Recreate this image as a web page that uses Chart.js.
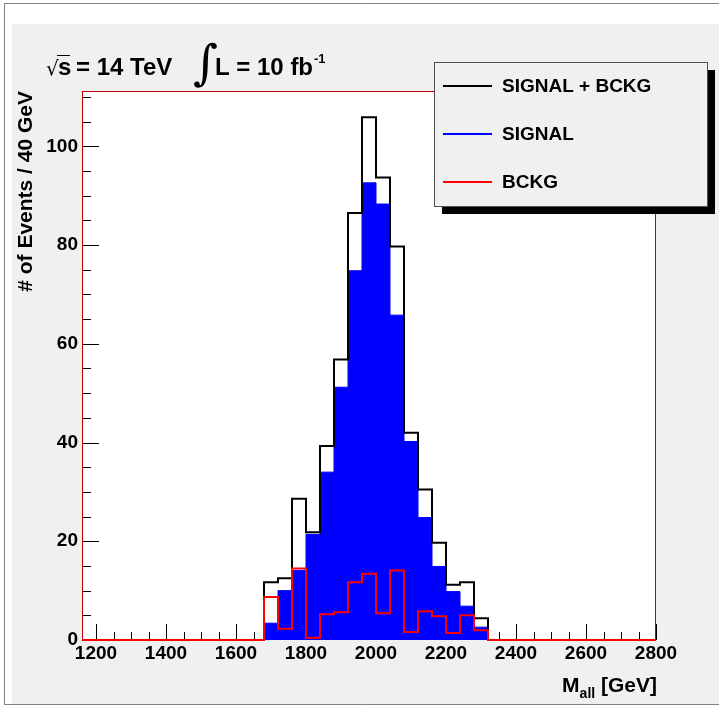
<!DOCTYPE html>
<html>
<head>
<meta charset="utf-8">
<style>
  html, body { margin: 0; padding: 0; background: #ffffff; }
  canvas { display: block; }
</style>
<script src="https://cdn.jsdelivr.net/npm/chart.js@4.4.1/dist/chart.umd.min.js"></script>
</head>
<body>
<canvas id="c" width="719" height="707"></canvas>
<script>
// Histogram range and binning (GeV)
const xMin = 1160;
const xMax = 2800;
const binWidth = 40;
const yMax = 111.2;

// Lower edges of the populated 40 GeV bins
const binLowEdges = [1680, 1720, 1760, 1800, 1840, 1880, 1920, 1960, 2000, 2040, 2080, 2120, 2160, 2200, 2240, 2280];

// Events per bin
const signalPlusBckg = [11.7, 12.5, 28.6, 21.8, 39.3, 56.8, 86.5, 105.9, 93.7, 79.7, 42.0, 30.5, 19.7, 11.2, 11.7, 4.4];
const signal         = [3.4, 10.0, 14.1, 21.4, 34.0, 51.2, 74.8, 92.6, 88.3, 65.8, 40.2, 24.8, 14.9, 9.8, 6.85, 2.6];
const bckg           = [8.7, 2.3, 14.5, 0.45, 5.2, 5.6, 11.7, 13.4, 5.4, 14.1, 1.6, 5.8, 4.8, 1.4, 5.0, 2.0];

// Axis ticks
const xTickLabels = [1200, 1400, 1600, 1800, 2000, 2200, 2400, 2600, 2800];
const xMinorStep = 50;
const yTickLabels = [0, 20, 40, 60, 80, 100];
const yMinorStep = 5;

const FONT = "'Liberation Sans', Arial, sans-serif";

// Turn bin contents into step-line points: one point on each bin's lower
// edge carrying that bin's content; the level is held until the next edge.
function stepPoints(values) {
  const pts = [{ x: xMin, y: 0 }];
  binLowEdges.forEach((lo, i) => pts.push({ x: lo, y: values[i] }));
  pts.push({ x: binLowEdges[binLowEdges.length - 1] + binWidth, y: 0 });
  pts.push({ x: xMax, y: 0 });
  return pts;
}

function range(from, to, step) {
  const out = [];
  for (let v = from; v <= to + 1e-9; v += step) out.push(v);
  return out;
}

// Pad background, outer border and white frame
const backgroundPlugin = {
  id: 'padBackground',
  beforeDraw(chart) {
    const ctx = chart.ctx;
    const a = chart.chartArea;
    ctx.save();
    ctx.fillStyle = '#ffffff';
    ctx.fillRect(0, 0, chart.width, chart.height);
    ctx.fillStyle = '#f0f0f0';
    ctx.fillRect(12, 24, chart.width - 12, chart.height - 27);
    ctx.strokeStyle = '#808080';
    ctx.lineWidth = 1;
    ctx.beginPath();
    ctx.moveTo(4.5, chart.height - 2.5);
    ctx.lineTo(4.5, 3.5);
    ctx.lineTo(chart.width, 3.5);
    ctx.moveTo(4.5, chart.height - 2.5);
    ctx.lineTo(chart.width, chart.height - 2.5);
    ctx.stroke();
    ctx.fillStyle = '#ffffff';
    ctx.fillRect(a.left, a.top, a.right - a.left, a.bottom - a.top);
    ctx.restore();
  }
};

// Frame outline and inward tick marks, laid down beneath the histograms
const frameTicksPlugin = {
  id: 'frameTicks',
  beforeDatasetsDraw(chart) {
    const ctx = chart.ctx;
    const a = chart.chartArea;
    const xs = chart.scales.x;
    const ys = chart.scales.y;
    ctx.save();
    ctx.strokeStyle = '#000000';
    ctx.lineWidth = 1;
    ctx.beginPath();
    xs.ticks.forEach(t => {
      const px = Math.round(xs.getPixelForValue(t.value)) + 0.5;
      const len = (t.value % 200 === 0) ? 16 : 8;
      ctx.moveTo(px, a.bottom);
      ctx.lineTo(px, a.bottom - len);
    });
    ys.ticks.forEach(t => {
      const py = Math.round(ys.getPixelForValue(t.value)) + 0.5;
      const len = (t.value % 20 === 0) ? 17 : 9;
      ctx.moveTo(a.left, py);
      ctx.lineTo(a.left + len, py);
    });
    ctx.stroke();
    ctx.strokeStyle = '#c00000';
    ctx.strokeRect(Math.round(a.left) + 0.5, Math.round(a.top) + 0.5,
                   Math.round(a.right - a.left) - 1, Math.round(a.bottom - a.top) - 1);
    ctx.restore();
  }
};

// Energy / luminosity note, x-axis title and legend box
const annotationPlugin = {
  id: 'annotations',
  afterDraw(chart) {
    const ctx = chart.ctx;
    ctx.save();
    ctx.fillStyle = '#000000';
    ctx.textBaseline = 'alphabetic';
    ctx.textAlign = 'left';

    // sqrt(s) = 14 TeV
    ctx.font = "20px 'DejaVu Sans', sans-serif";
    ctx.fillText('\u221A', 46, 75);
    ctx.font = 'bold 24px ' + FONT;
    ctx.fillText('s', 58, 75);
    ctx.strokeStyle = '#000';
    ctx.lineWidth = 1;
    ctx.beginPath();
    ctx.moveTo(57, 55.5);
    ctx.lineTo(70, 55.5);
    ctx.stroke();
    ctx.fillText('= 14 TeV', 76, 75);

    // integrated luminosity
    ctx.font = "48px 'DejaVu Serif', serif";
    ctx.fillText('\u222B', 193, 79);
    ctx.font = 'bold 24px ' + FONT;
    ctx.fillText('L = 10 fb', 215, 75);
    const w = ctx.measureText('L = 10 fb').width;
    ctx.font = 'bold 13px ' + FONT;
    ctx.fillText('-1', 215 + w + 1, 63);

    // x-axis title: M_all [GeV]
    ctx.textAlign = 'right';
    ctx.font = 'bold 21px ' + FONT;
    const tail = ' [GeV]';
    const tailW = ctx.measureText(tail).width;
    ctx.fillText(tail, 657, 692);
    ctx.font = 'bold 14px ' + FONT;
    const subW = ctx.measureText('all').width;
    ctx.fillText('all', 657 - tailW, 698);
    ctx.font = 'bold 21px ' + FONT;
    ctx.fillText('M', 657 - tailW - subW, 692);

    // legend
    const box = { x: 434, y: 62, w: 273, h: 144 };
    ctx.fillStyle = '#000000';
    ctx.fillRect(box.x + 8, box.y + 8, box.w, box.h);
    ctx.fillStyle = '#f0f0f0';
    ctx.fillRect(box.x, box.y, box.w, box.h);
    ctx.strokeStyle = '#505050';
    ctx.lineWidth = 1;
    ctx.strokeRect(box.x + 0.5, box.y + 0.5, box.w, box.h);
    ctx.textAlign = 'left';
    ctx.textBaseline = 'middle';
    ctx.font = 'bold 19px ' + FONT;
    [0, 1, 2].forEach(i => {
      const ds = chart.data.datasets[i];
      const yy = 86 + i * 48;
      ctx.strokeStyle = ds.borderColor;
      ctx.lineWidth = 2;
      ctx.beginPath();
      ctx.moveTo(443, yy);
      ctx.lineTo(492, yy);
      ctx.stroke();
      ctx.fillStyle = '#000000';
      ctx.fillText(ds.label, 502, yy + 1);
    });
    ctx.restore();
  }
};

new Chart(document.getElementById('c'), {
  type: 'line',
  data: {
    datasets: [
      {
        label: 'SIGNAL + BCKG',
        data: stepPoints(signalPlusBckg),
        stepped: 'before',
        borderColor: '#000000',
        borderWidth: 2,
        backgroundColor: 'rgba(0,0,0,0)',
        fill: false,
        pointRadius: 0,
        clip: 2,
        order: 2
      },
      {
        label: 'SIGNAL',
        data: stepPoints(signal),
        stepped: 'before',
        borderColor: '#0000ff',
        borderWidth: 1,
        backgroundColor: '#0000ff',
        fill: 'origin',
        pointRadius: 0,
        order: 3
      },
      {
        label: 'BCKG',
        data: stepPoints(bckg),
        stepped: 'before',
        borderColor: '#ff0000',
        borderWidth: 2,
        backgroundColor: 'rgba(0,0,0,0)',
        fill: false,
        pointRadius: 0,
        clip: 2,
        order: 1
      }
    ]
  },
  options: {
    responsive: false,
    animation: false,
    events: [],
    layout: { padding: { left: 0, right: 63, top: 91, bottom: 0 } },
    plugins: {
      legend: { display: false },
      tooltip: { enabled: false },
      title: { display: false }
    },
    scales: {
      x: {
        type: 'linear',
        min: xMin,
        max: xMax,
        grid: { display: false, drawTicks: false },
        border: { display: false },
        afterBuildTicks(scale) {
          scale.ticks = range(xTickLabels[0], xTickLabels[xTickLabels.length - 1], xMinorStep)
            .map(v => ({ value: v }));
        },
        ticks: {
          autoSkip: false,
          maxRotation: 0,
          padding: 2,
          color: '#000000',
          font: { family: FONT, size: 19, weight: 'bold' },
          callback: v => (xTickLabels.includes(v) ? String(v) : '')
        },
        afterFit(scale) {
          scale.height = 67;
          scale.paddingLeft = 0;
          scale.paddingRight = 0;
        }
      },
      y: {
        type: 'linear',
        min: 0,
        max: yMax,
        grid: { display: false, drawTicks: false },
        border: { display: false },
        afterBuildTicks(scale) {
          scale.ticks = range(0, 110, yMinorStep).map(v => ({ value: v }));
        },
        ticks: {
          autoSkip: false,
          padding: 4,
          color: '#000000',
          font: { family: FONT, size: 19, weight: 'bold' },
          callback: v => (yTickLabels.includes(v) ? String(v) : '')
        },
        title: {
          display: true,
          text: '# of Events / 40 GeV',
          align: 'end',
          color: '#000000',
          padding: { top: 14, bottom: 0 },
          font: { family: FONT, size: 21, weight: 'bold' }
        },
        afterFit(scale) {
          scale.width = 82;
          scale.paddingTop = 0;
          scale.paddingBottom = 0;
        }
      }
    }
  },
  plugins: [backgroundPlugin, frameTicksPlugin, annotationPlugin]
});
</script>
</body>
</html>
